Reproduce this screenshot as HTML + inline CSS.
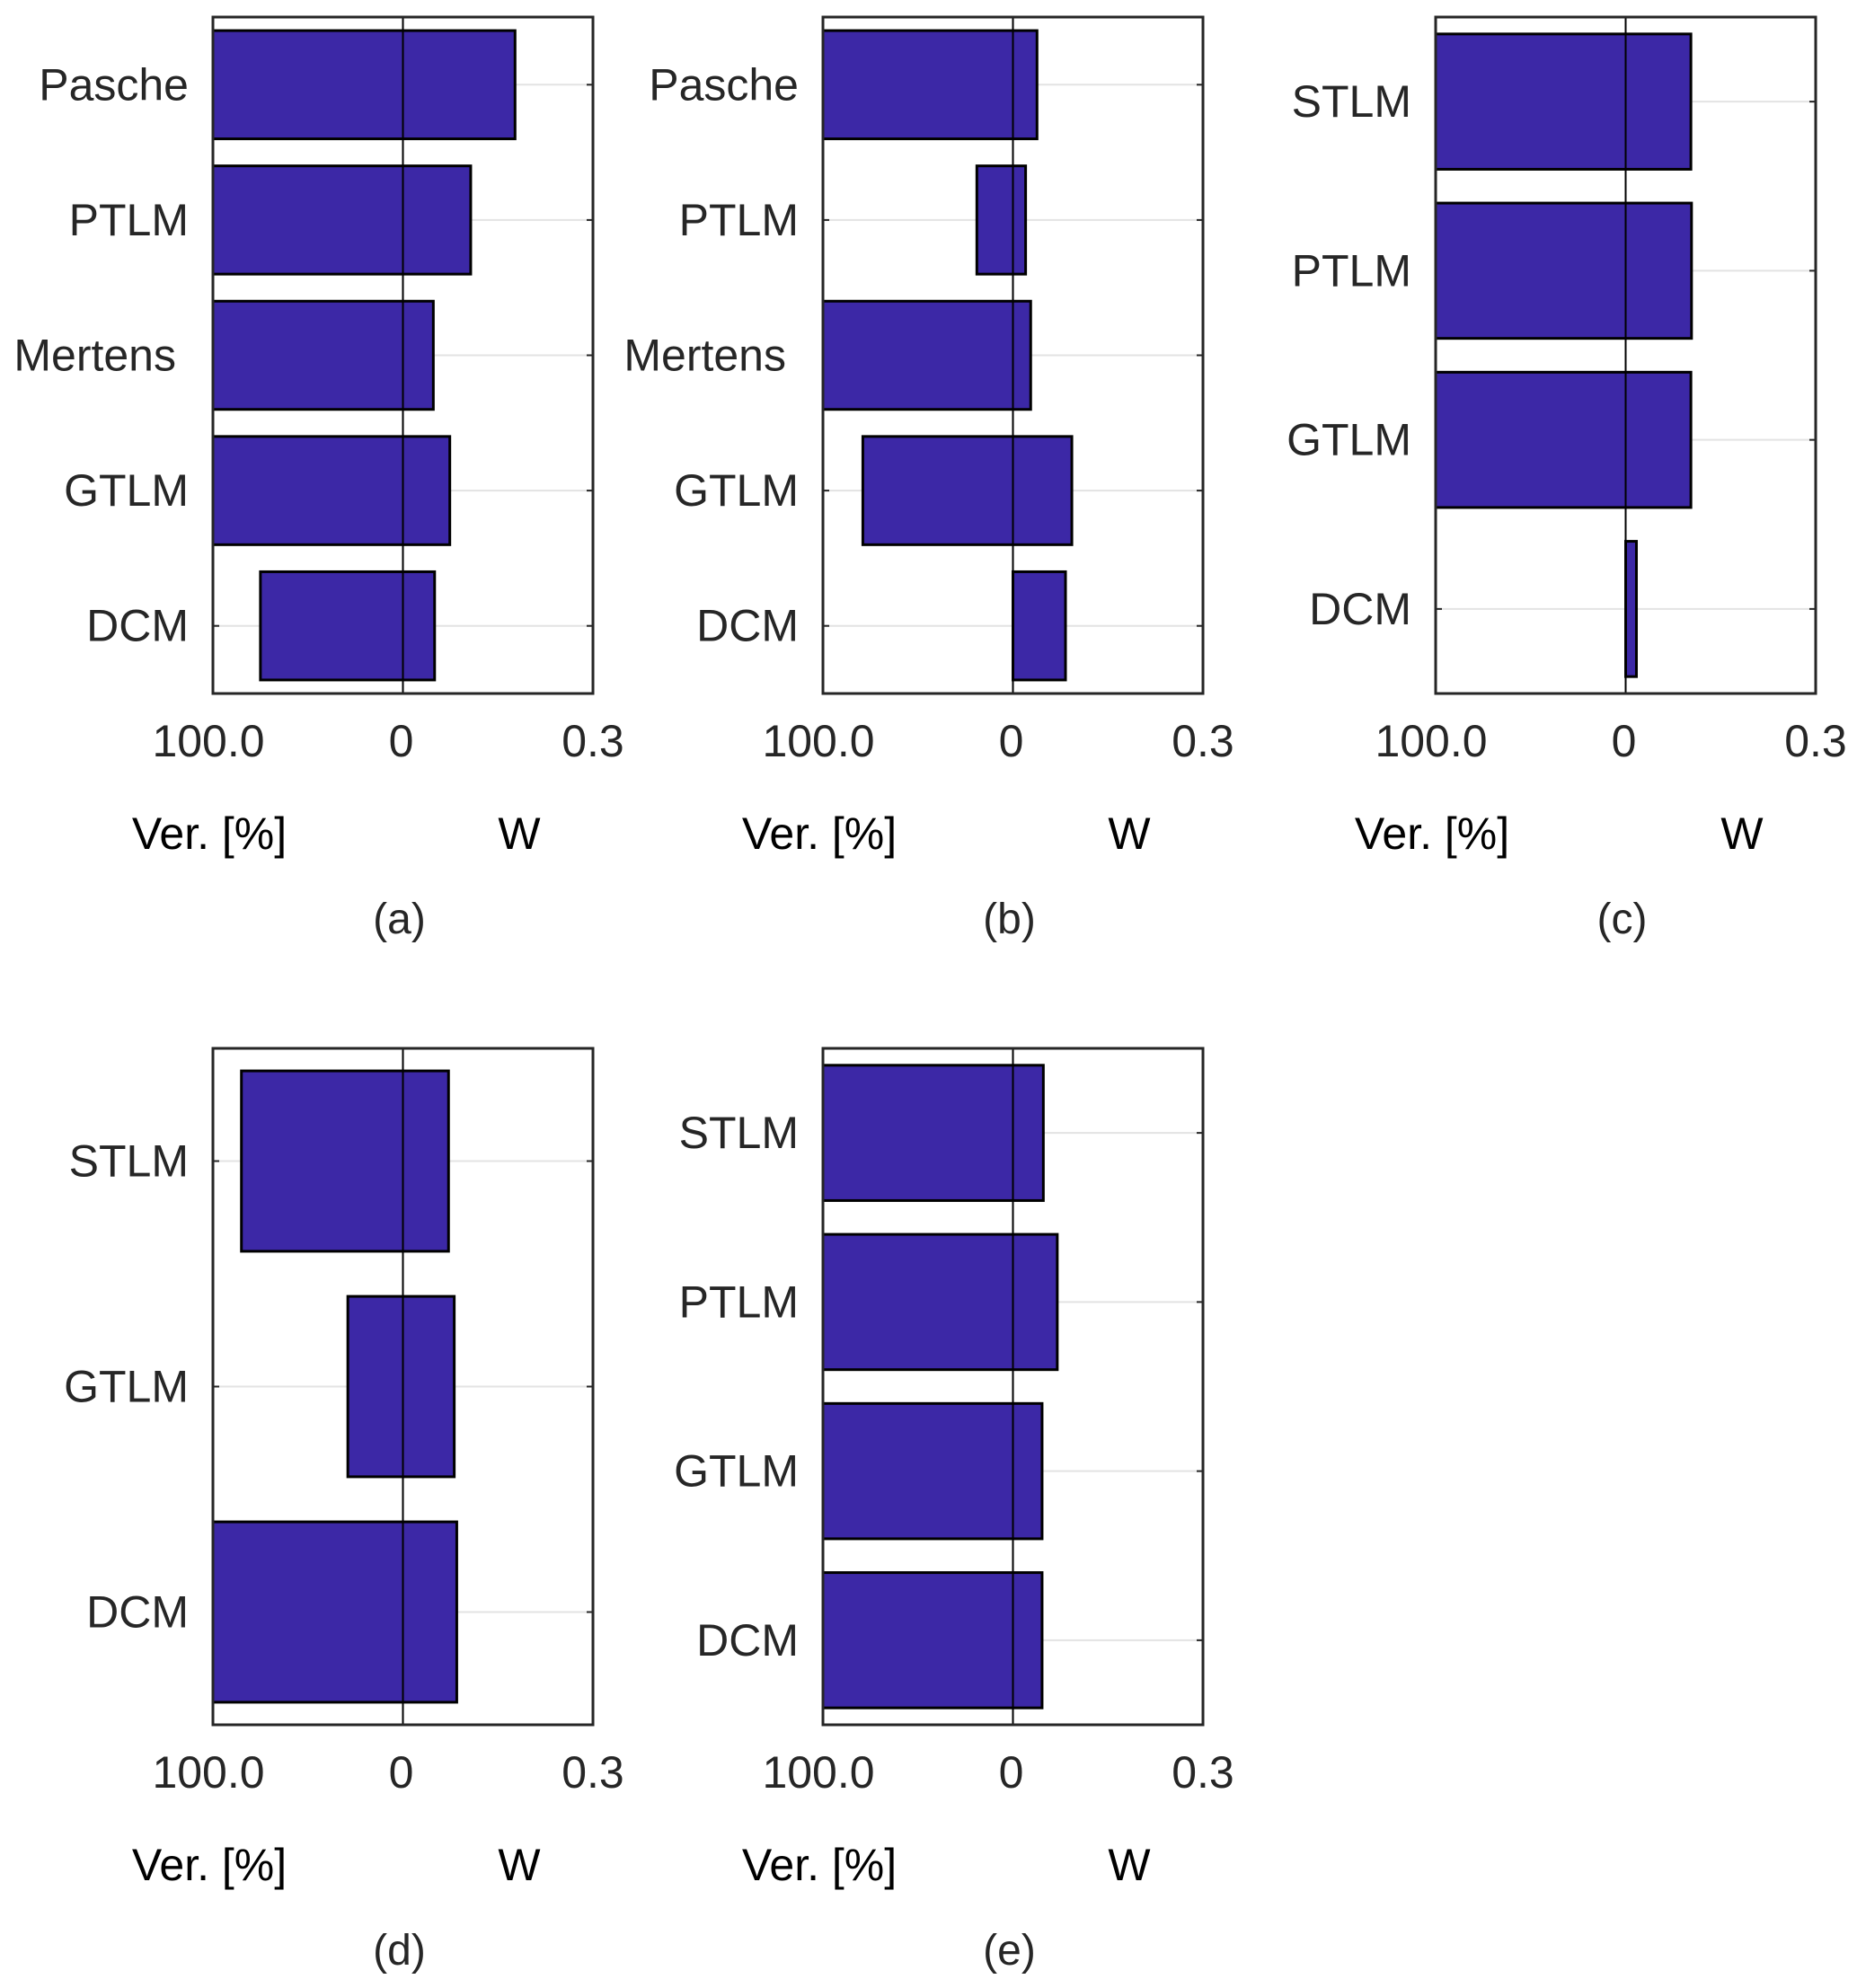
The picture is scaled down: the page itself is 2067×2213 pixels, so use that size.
<!DOCTYPE html>
<html><head><meta charset="utf-8">
<style>
html,body{margin:0;padding:0;background:#fff;}
svg{display:block;font-family:"Liberation Sans",Arial,sans-serif;}
</style></head>
<body>
<svg id="chart" width="2067" height="2213" viewBox="0 0 2067 2213" xmlns="http://www.w3.org/2000/svg"></svg>
<script>
// Panel data
const catsA = ["Pasche","PTLM","Mertens","GTLM","DCM"];
const verA = [100, 100, 100, 100, 75];
const wA = [0.177, 0.107, 0.048, 0.074, 0.050];

const catsB = ["Pasche","PTLM","Mertens","GTLM","DCM"];
const verB = [100, 19, 100, 79, 0];
const wB = [0.038, 0.020, 0.028, 0.093, 0.083];

const catsC = ["STLM","PTLM","GTLM","DCM"];
const verC = [100, 100, 100, 0];
const wC = [0.103, 0.104, 0.103, 0.017];

const catsD = ["STLM","GTLM","DCM"];
const verD = [85, 29, 100];
const wD = [0.072, 0.081, 0.085];

const catsE = ["STLM","PTLM","GTLM","DCM"];
const verE = [100, 100, 100, 100];
const wE = [0.048, 0.070, 0.046, 0.046];

const tickLabels = ["100.0","0","0.3"];
const verMax = 100;
const wMax = 0.3;
const panelLabels = ["(a)","(b)","(c)","(d)","(e)"];

const NS = "http://www.w3.org/2000/svg";
const svg = document.getElementById("chart");
function mk(tag, attrs, parent){
  const e = document.createElementNS(NS, tag);
  for (const k in attrs) e.setAttribute(k, attrs[k]);
  (parent||svg).appendChild(e);
  return e;
}

function panel(idx, left, top, cats, ver, w){
  const W = 423, H = 753;
  const zero = left + W/2;
  const xVer = v => zero - v/verMax*(W/2);
  const xW = v => zero + v/wMax*(W/2);
  const slot = H/cats.length;
  const yC = i => top + slot*(i+0.5);
  const g = mk("g", {});
  
  

  cats.forEach((c,i)=>{
    const gl = mk("line",{x1:left,x2:left+W,y1:yC(i),y2:yC(i),stroke:"#e3e3e3","stroke-width":2},g);
    
    
    mk("line",{x1:left,x2:left+7,y1:yC(i),y2:yC(i),stroke:"#262626","stroke-width":2},g);
    mk("line",{x1:left+W-7,x2:left+W,y1:yC(i),y2:yC(i),stroke:"#262626","stroke-width":2},g);
  });
  cats.forEach((c,i)=>{
    const x0 = xVer(ver[i]), x1 = xW(w[i]);
    const bh = slot*0.8;
    const r = mk("rect",{x:x0,y:yC(i)-bh/2,width:x1-x0,height:bh,fill:"#3c28a6",stroke:"#000","stroke-width":3},g);
    
    
    const t = mk("text",{x:left-27-(c==="Mertens"?14:0),y:yC(i)+17,"text-anchor":"end","font-size":50,fill:"#262626"},g);
    t.textContent = c;
    
    
  });
  const zl = mk("line",{x1:zero,x2:zero,y1:top,y2:top+H,stroke:"#000","stroke-width":2},g);
  
  
  const fr = mk("rect",{x:left,y:top,width:W,height:H,fill:"none",stroke:"#262626","stroke-width":3},g);
  
  
  const tx = [left-5, zero-2, left+W];
  tickLabels.forEach((l,k)=>{
    const t = mk("text",{x:tx[k],y:top+H+70,"text-anchor":"middle","font-size":50,fill:"#262626"},g);
    t.textContent = l;
    
    
  });
  const v = mk("text",{x:left-4,y:top+H+173,"text-anchor":"middle","font-size":50,fill:"#000"},g);
  v.textContent = "Ver. [%]";
  
  
  const ww = mk("text",{x:left+341,y:top+H+173,"text-anchor":"middle","font-size":50,fill:"#000"},g);
  ww.textContent = "W";
  
  
  const pl = mk("text",{x:zero-4,y:top+H+267,"text-anchor":"middle","font-size":48,fill:"#262626"},g);
  pl.textContent = panelLabels[idx];
  
  
}

panel(0, 237, 19, catsA, verA, wA);
panel(1, 916, 19, catsB, verB, wB);
panel(2, 1598, 19, catsC, verC, wC);
panel(3, 237, 1167, catsD, verD, wD);
panel(4, 916, 1167, catsE, verE, wE);
</script>
</body></html>
